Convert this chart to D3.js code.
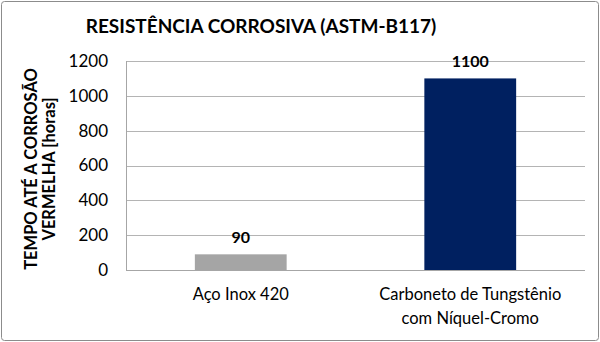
<!DOCTYPE html>
<html>
<head>
<meta charset="utf-8">
<script src="https://cdn.jsdelivr.net/npm/d3@7"></script>
<style>
  body { margin: 0; background: #fff; }
  svg text { font-family: Lato, "Open Sans", sans-serif; }
</style>
</head>
<body>
<div id="chart"></div>
<script>
// chart data
var categories = [["Aço Inox 420"], ["Carboneto de Tungstênio", "com Níquel-Cromo"]];
var values = [90, 1100];
var barColors = ["#a5a5a5", "#002060"];
var yTicks = [0, 200, 400, 600, 800, 1000, 1200];
var title = "RESISTÊNCIA CORROSIVA (ASTM-B117)";
var yTitle = ["TEMPO ATÉ A CORROSÃO", "VERMELHA  [horas]"];

var W = 600, H = 342;
var margin = {top: 61, right: 15, bottom: 72, left: 126},
    width = W - margin.left - margin.right,
    height = H - margin.top - margin.bottom;

var svg = d3.select("#chart").append("svg")
    .attr("width", W)
    .attr("height", H);

// outer border
svg.append("rect")
    .attr("x", 1.5).attr("y", 1.5)
    .attr("width", W - 3).attr("height", H - 3)
    .attr("rx", 3)
    .attr("fill", "#fff")
    .attr("stroke", "#8c8c8c");

var g = svg.append("g")
    .attr("transform", "translate(" + margin.left + "," + margin.top + ")");

var x = d3.scaleBand()
    .domain(d3.range(values.length))
    .range([0, width])
    .paddingInner(0.6)
    .paddingOuter(0.3);

var y = d3.scaleLinear().domain([0, 1200]).range([height, 0]);

// gridlines
g.selectAll(".grid")
    .data(yTicks)
  .enter().append("line")
    .attr("x1", 0).attr("x2", width)
    .attr("y1", function(d) { return Math.round(y(d)) + 0.5; })
    .attr("y2", function(d) { return Math.round(y(d)) + 0.5; })
    .attr("stroke", function(d) { return d === 0 ? "#a6a6a6" : "#b4b4b4"; });

// y axis line
g.append("line")
    .attr("x1", 0.5).attr("x2", 0.5)
    .attr("y1", 0).attr("y2", height)
    .attr("stroke", "#a6a6a6");

var yAxis = g.append("g")
    .call(d3.axisLeft(y).tickValues(yTicks).tickFormat(d3.format("d")).tickSize(0).tickPadding(18));
yAxis.select(".domain").remove();
yAxis.selectAll("text")
    .style("font-size", "17px")
    .attr("fill", "#000");

// bars
g.selectAll(".bar")
    .data(values)
  .enter().append("rect")
    .attr("x", function(d, i) { return x(i); })
    .attr("width", x.bandwidth())
    .attr("y", function(d) { return y(d); })
    .attr("height", function(d) { return height - y(d); })
    .attr("fill", function(d, i) { return barColors[i]; });

// value labels
g.selectAll(".val")
    .data(values)
  .enter().append("text")
    .attr("x", function(d, i) { return x(i) + x.bandwidth() / 2; })
    .attr("y", function(d) { return y(d) - 11; })
    .attr("text-anchor", "middle")
    .style("font-size", "16px")
    .style("font-weight", "bold")
    .text(function(d) { return d; });

// category labels
var cat = g.selectAll(".cat")
    .data(categories)
  .enter().append("text")
    .attr("x", function(d, i) { return x(i) + x.bandwidth() / 2; })
    .attr("y", height + 30)
    .attr("text-anchor", "middle")
    .style("font-size", "16.5px");
cat.selectAll("tspan")
    .data(function(d) { return d; })
  .enter().append("tspan")
    .attr("x", function() { return d3.select(this.parentNode).attr("x"); })
    .attr("dy", function(d, i) { return i === 0 ? 0 : 24; })
    .text(function(d) { return d; });

// title
svg.append("text")
    .attr("x", 261)
    .attr("y", 33)
    .attr("text-anchor", "middle")
    .style("font-size", "19px")
    .style("font-weight", "bold")
    .text(title);

// y title
var yt = svg.append("text")
    .attr("transform", "translate(37,169) rotate(-90)")
    .attr("text-anchor", "middle")
    .style("font-size", "16.5px")
    .style("font-weight", "bold");
yt.selectAll("tspan")
    .data(yTitle)
  .enter().append("tspan")
    .attr("x", 0)
    .attr("dy", function(d, i) { return i === 0 ? 0 : 18; })
    .text(function(d) { return d; });
</script>
</body>
</html>
